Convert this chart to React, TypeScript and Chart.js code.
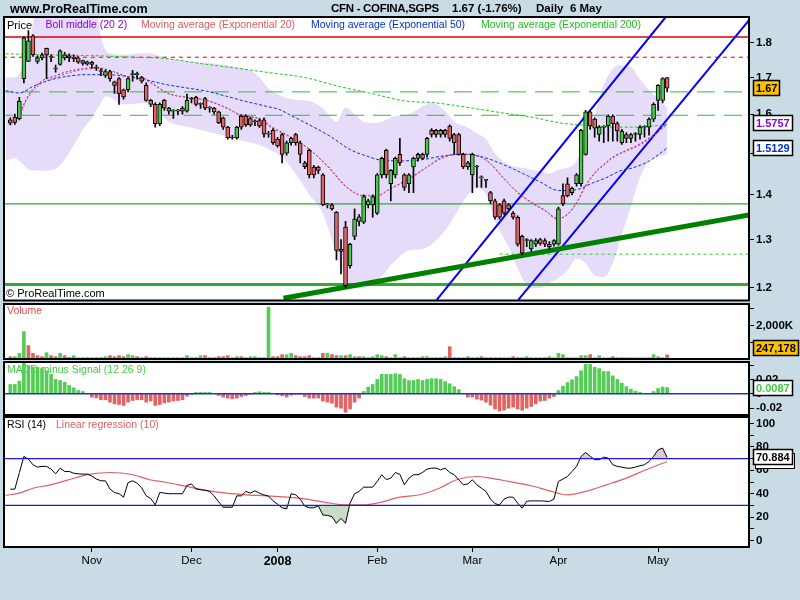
import React, { useEffect, useRef } from 'react';
import { Chart, registerables } from 'chart.js';

Chart.register(...registerables);

// ================= DATA =================
const monthTickIdx = [18, 40, 59, 81, 102, 121, 143];
const monthTickLabels = ['Nov', 'Dec', '2008', 'Feb', 'Mar', 'Apr', 'May'];

const priceTicks = [1.2, 1.3, 1.4, 1.5, 1.6, 1.7, 1.8];
const volumeTicks = [1000, 2000, 3000];
const macdTicks = [0.04, 0.02, 0, -0.02];
const rsiTicks = [0, 10, 20, 30, 40, 50, 60, 70, 80, 90, 100];

const opens = [
  1.585, 1.592, 1.588, 1.697, 1.746, 1.821, 1.746, 1.756, 1.784, 1.760,
  1.724, 1.737, 1.756, 1.762, 1.758, 1.756, 1.748, 1.738, 1.744, 1.727,
  1.717, 1.706, 1.717, 1.688, 1.697, 1.666, 1.666, 1.708, 1.708, 1.700,
  1.678, 1.637, 1.626, 1.574, 1.637, 1.608, 1.608, 1.608, 1.616, 1.608,
  1.640, 1.645, 1.626, 1.642, 1.616, 1.616, 1.606, 1.590, 1.566, 1.538,
  1.538, 1.595, 1.595, 1.588, 1.580, 1.583, 1.585, 1.548, 1.558, 1.535,
  1.547, 1.500, 1.526, 1.547, 1.526, 1.476, 1.507, 1.466, 1.466, 1.447,
  1.377, 1.377, 1.360, 1.280, 1.327, 1.245, 1.307, 1.340, 1.338, 1.377,
  1.377, 1.358, 1.447, 1.507, 1.426, 1.447, 1.497, 1.447, 1.426, 1.466,
  1.487, 1.497, 1.497, 1.558, 1.558, 1.547, 1.558, 1.569, 1.547, 1.547,
  1.497, 1.466, 1.447, 1.466, 1.440, 1.434, 1.405, 1.386, 1.377, 1.386,
  1.377, 1.358, 1.349, 1.307, 1.298, 1.280, 1.290, 1.300, 1.298, 1.285,
  1.290, 1.290, 1.398, 1.426, 1.405, 1.426, 1.426, 1.497, 1.606, 1.587,
  1.547, 1.566, 1.569, 1.595, 1.575, 1.526, 1.547, 1.537, 1.547, 1.547,
  1.566, 1.566, 1.587, 1.637, 1.637, 1.700,
];
const highs = [
  1.590, 1.600, 1.645, 1.818, 1.837, 1.825, 1.762, 1.770, 1.785, 1.765,
  1.735, 1.780, 1.772, 1.768, 1.765, 1.760, 1.750, 1.747, 1.746, 1.735,
  1.725, 1.722, 1.720, 1.690, 1.700, 1.668, 1.700, 1.720, 1.715, 1.703,
  1.685, 1.640, 1.630, 1.630, 1.640, 1.618, 1.612, 1.613, 1.620, 1.654,
  1.645, 1.648, 1.630, 1.645, 1.620, 1.618, 1.608, 1.592, 1.568, 1.545,
  1.568, 1.598, 1.598, 1.592, 1.585, 1.588, 1.590, 1.555, 1.562, 1.540,
  1.550, 1.530, 1.540, 1.550, 1.530, 1.480, 1.510, 1.470, 1.468, 1.450,
  1.380, 1.380, 1.362, 1.300, 1.340, 1.292, 1.368, 1.355, 1.400, 1.390,
  1.400, 1.450, 1.490, 1.510, 1.460, 1.490, 1.537, 1.450, 1.450, 1.490,
  1.500, 1.500, 1.540, 1.562, 1.560, 1.560, 1.560, 1.572, 1.550, 1.550,
  1.500, 1.480, 1.500, 1.470, 1.445, 1.436, 1.408, 1.390, 1.380, 1.390,
  1.380, 1.362, 1.352, 1.310, 1.302, 1.300, 1.302, 1.303, 1.302, 1.296,
  1.300, 1.372, 1.426, 1.440, 1.418, 1.450, 1.560, 1.610, 1.610, 1.590,
  1.570, 1.570, 1.598, 1.598, 1.580, 1.560, 1.552, 1.550, 1.552, 1.570,
  1.570, 1.590, 1.630, 1.680, 1.700, 1.700,
];
const lows = [
  1.572, 1.573, 1.585, 1.685, 1.745, 1.760, 1.740, 1.750, 1.697, 1.745,
  1.715, 1.735, 1.750, 1.745, 1.745, 1.740, 1.735, 1.735, 1.726, 1.720,
  1.705, 1.700, 1.690, 1.656, 1.626, 1.640, 1.660, 1.690, 1.695, 1.685,
  1.635, 1.620, 1.566, 1.570, 1.610, 1.600, 1.589, 1.598, 1.600, 1.605,
  1.630, 1.622, 1.615, 1.612, 1.605, 1.600, 1.575, 1.560, 1.535, 1.535,
  1.535, 1.560, 1.568, 1.568, 1.570, 1.565, 1.540, 1.540, 1.522, 1.515,
  1.476, 1.495, 1.520, 1.520, 1.476, 1.462, 1.440, 1.440, 1.450, 1.375,
  1.370, 1.365, 1.257, 1.228, 1.200, 1.240, 1.300, 1.330, 1.335, 1.370,
  1.349, 1.355, 1.440, 1.440, 1.386, 1.440, 1.470, 1.410, 1.405, 1.405,
  1.480, 1.485, 1.490, 1.540, 1.540, 1.540, 1.540, 1.530, 1.497, 1.495,
  1.462, 1.460, 1.405, 1.417, 1.417, 1.417, 1.380, 1.345, 1.345, 1.355,
  1.365, 1.345, 1.286, 1.268, 1.285, 1.275, 1.285, 1.288, 1.285, 1.280,
  1.286, 1.288, 1.375, 1.395, 1.400, 1.420, 1.420, 1.495, 1.560, 1.540,
  1.530, 1.526, 1.530, 1.530, 1.530, 1.522, 1.526, 1.526, 1.530, 1.535,
  1.540, 1.545, 1.580, 1.610, 1.630, 1.660,
];
const closes = [
  1.576, 1.578, 1.634, 1.815, 1.806, 1.765, 1.756, 1.765, 1.765, 1.758,
  1.724, 1.777, 1.765, 1.756, 1.754, 1.744, 1.740, 1.745, 1.737, 1.727,
  1.717, 1.717, 1.697, 1.678, 1.655, 1.646, 1.697, 1.708, 1.708, 1.690,
  1.637, 1.626, 1.574, 1.626, 1.616, 1.616, 1.608, 1.608, 1.608, 1.637,
  1.640, 1.626, 1.626, 1.616, 1.616, 1.606, 1.577, 1.566, 1.538, 1.538,
  1.566, 1.566, 1.572, 1.572, 1.580, 1.569, 1.548, 1.550, 1.526, 1.518,
  1.497, 1.526, 1.537, 1.526, 1.497, 1.467, 1.447, 1.447, 1.458, 1.377,
  1.377, 1.368, 1.277, 1.275, 1.205, 1.290, 1.345, 1.350, 1.396, 1.386,
  1.396, 1.447, 1.487, 1.447, 1.458, 1.487, 1.476, 1.417, 1.447, 1.487,
  1.497, 1.487, 1.537, 1.547, 1.547, 1.558, 1.547, 1.537, 1.526, 1.497,
  1.466, 1.476, 1.497, 1.466, 1.440, 1.434, 1.386, 1.349, 1.349, 1.358,
  1.368, 1.349, 1.290, 1.271, 1.298, 1.298, 1.298, 1.292, 1.290, 1.290,
  1.298, 1.368, 1.379, 1.398, 1.415, 1.447, 1.558, 1.606, 1.569, 1.563,
  1.566, 1.566, 1.595, 1.575, 1.556, 1.556, 1.537, 1.547, 1.547, 1.566,
  1.566, 1.587, 1.626, 1.678, 1.697, 1.670,
];

const volumesK = [
  140, 140, 340, 1640, 800, 340, 200, 140, 380, 200,
  140, 340, 200, 100, 200, 80, 80, 80, 80, 80,
  80, 140, 200, 140, 200, 140, 260, 200, 140, 80,
  140, 80, 80, 80, 80, 80, 80, 80, 80, 200,
  80, 80, 200, 200, 80, 80, 140, 140, 200, 80,
  140, 140, 80, 140, 140, 80, 80, 3100, 140, 140,
  260, 260, 340, 200, 140, 140, 200, 80, 80, 340,
  340, 260, 200, 200, 200, 260, 140, 140, 140, 80,
  140, 260, 200, 140, 80, 260, 80, 140, 80, 80,
  80, 140, 140, 80, 80, 80, 140, 740, 80, 80,
  80, 140, 80, 80, 140, 80, 80, 80, 80, 80,
  80, 140, 80, 80, 140, 80, 80, 80, 80, 140,
  80, 340, 260, 80, 80, 80, 200, 200, 260, 80,
  200, 80, 80, 140, 80, 80, 80, 80, 80, 80,
  80, 80, 260, 140, 80, 247,
];
const volumeUp = [
  0, 1, 1, 1, 0, 0, 0, 0, 1, 0,
  0, 1, 0, 0, 1, 1, 1, 0, 0, 0,
  0, 1, 0, 0, 0, 0, 1, 1, 0, 0,
  0, 0, 0, 1, 1, 1, 1, 1, 1, 1,
  0, 0, 1, 0, 0, 0, 0, 0, 0, 1,
  1, 0, 0, 1, 1, 0, 0, 1, 0, 0,
  0, 1, 1, 0, 0, 0, 0, 1, 1, 0,
  1, 0, 0, 1, 0, 1, 1, 0, 1, 0,
  1, 1, 1, 0, 1, 1, 0, 0, 1, 1,
  1, 1, 1, 1, 0, 0, 1, 0, 0, 0,
  0, 1, 1, 0, 0, 0, 0, 0, 0, 1,
  1, 0, 0, 0, 1, 1, 1, 1, 0, 1,
  1, 1, 1, 1, 1, 1, 1, 1, 0, 1,
  1, 1, 1, 0, 0, 0, 1, 1, 1, 1,
  1, 1, 1, 1, 1, 0,
];

const macdHist = [
  0.013, 0.013, 0.0176, 0.044, 0.039, 0.037, 0.037, 0.035, 0.032, 0.027,
  0.020, 0.0185, 0.016, 0.0116, 0.0083, 0.0046, 0.0032, 0.0005, -0.0046, -0.0056,
  -0.0083, -0.0083, -0.0116, -0.014, -0.0148, -0.0162, -0.0116, -0.0093, -0.0083, -0.0083,
  -0.0116, -0.010, -0.0162, -0.0148, -0.0125, -0.0116, -0.010, -0.0093, -0.0083, -0.0032,
  -0.0005, 0.0019, 0.0019, 0.0019, 0.0019, 0.0003, -0.0023, -0.0046, -0.006, -0.007,
  -0.006, -0.0037, -0.0023, -0.0005, 0.0019, 0.0028, 0.0019, 0.0019, 0.0002, -0.0014,
  -0.0028, -0.0046, -0.0019, -0.0003, -0.0005, -0.0037, -0.006, -0.006, -0.006, -0.010,
  -0.0116, -0.013, -0.0185, -0.020, -0.0255, -0.021, -0.0116, -0.006, 0.0032, 0.0093,
  0.013, 0.020, 0.027, 0.027, 0.027, 0.028, 0.027, 0.021, 0.0185, 0.0185,
  0.020, 0.0185, 0.020, 0.021, 0.021, 0.020, 0.017, 0.014, 0.010, 0.006,
  0.0005, -0.0046, -0.0046, -0.0074, -0.0088, -0.0116, -0.0157, -0.021, -0.024, -0.0227,
  -0.020, -0.0185, -0.021, -0.0227, -0.020, -0.0176, -0.014, -0.010, -0.0093, -0.006,
  -0.0037, 0.0046, 0.0106, 0.0157, 0.0194, 0.024, 0.032, 0.041, 0.041, 0.037,
  0.035, 0.031, 0.031, 0.025, 0.020, 0.0148, 0.010, 0.0065, 0.0037, 0.0019,
  0.0005, 0.0005, 0.0032, 0.0074, 0.0095, 0.0087,
];

const rsi14 = [
  43.9, 43.9, 58, 71.8, 69.5, 64.7, 62.7, 63.3, 63.3, 61,
  57, 61.8, 59, 59, 57.5, 57, 56.7, 56.7, 55, 52.5,
  51, 51, 44, 41, 40, 37.1, 49.5, 51, 49, 45,
  38.2, 36, 30.5, 41.1, 40.5, 40, 40, 40, 40, 47,
  48.4, 44, 43.4, 43, 42, 38.2, 33, 28.5, 28.5, 28.5,
  38.2, 38.2, 42, 40.5, 42.5, 40.5, 39, 38, 34, 31,
  28, 27, 40, 39.1, 35.4, 29.5, 28, 28, 29.7, 21.9,
  21.5, 20.5, 14.8, 19.1, 14.8, 32, 40, 42, 45.6, 45.6,
  45.6, 50.5, 56.2, 52, 53.3, 58.1, 56.5, 47.6, 53.3, 56.2,
  56.2, 58.1, 61, 61.8, 61.8, 60.4, 61.8, 58.1, 56.2, 51.9,
  47.6, 48.4, 51.9, 47.6, 44.7, 42, 35.5, 31.5, 30.5, 35.4,
  37.1, 37.1, 32, 27.7, 33.6, 33.9, 33.9, 33.9, 33.7, 33.4,
  35.4, 50.5, 52.5, 54.7, 59, 63.3, 71.8, 75.2, 72, 69,
  69, 71.2, 70.4, 64.7, 63.3, 62.7, 61.8, 61.8, 62.7, 63.9,
  64.7, 67.5, 71.8, 77.5, 78.9, 70.884,
];

const rsiRegPts = [
  [-1, 38.6], [2, 40.5], [5, 44.7], [8.8, 47.6], [12.4, 51.4], [17.6, 56.7], [22, 58.1],
  [27.1, 56.2], [30.8, 51.9], [34.5, 49.6], [38.9, 46.2], [43.3, 42.8], [47.7, 40.5],
  [52.1, 39.1], [56.5, 38.2], [61, 37.1], [65.4, 35.4], [69.8, 32.5], [74.2, 30.5],
  [77.9, 30.5], [81.5, 32.5], [86, 37.1], [90.4, 39.1], [94.7, 44.7], [98.5, 51.9],
  [103, 54.7], [106, 53.3], [110, 50.5], [115, 46.8], [119, 42.5], [123, 39.1],
  [127, 42], [131.6, 47.6], [136, 53.3], [140.3, 60.4], [145, 67.5],
];

const bollIdx = [
  -0.95, 1, 2, 3, 4, 5, 7, 10, 14, 16, 18, 19, 20, 21, 22, 25, 30, 35, 40, 45,
  50, 53, 55, 57, 60, 62, 66, 69, 72, 74, 76, 78, 81, 85, 88, 91, 93, 96, 98, 101,
  103, 105, 107, 110, 113, 115, 117, 119, 121, 123, 125, 127, 129, 131, 133, 135, 137, 139, 141, 143,
  145,
];
const bollUpper = [
  1.70, 1.70, 1.71, 1.74, 1.79, 1.86, 2.00, 2.02, 2.00, 1.98, 1.95, 1.90, 1.82, 1.78, 1.77, 1.765, 1.77, 1.755, 1.745, 1.74,
  1.73, 1.72, 1.70, 1.67, 1.648, 1.64, 1.635, 1.616, 1.58, 1.617, 1.60, 1.58, 1.577, 1.595, 1.60, 1.621, 1.63, 1.608, 1.58, 1.565,
  1.55, 1.535, 1.50, 1.472, 1.464, 1.46, 1.455, 1.45, 1.46, 1.464, 1.48, 1.53, 1.60, 1.68, 1.725, 1.735, 1.73, 1.695, 1.665, 1.64,
  1.617,
];
const bollLower = [
  1.481, 1.488, 1.48, 1.47, 1.46, 1.458, 1.457, 1.462, 1.52, 1.56, 1.59, 1.61, 1.63, 1.648, 1.645, 1.626, 1.63, 1.58, 1.565, 1.55,
  1.535, 1.526, 1.52, 1.51, 1.49, 1.464, 1.401, 1.357, 1.27, 1.222, 1.20, 1.20, 1.215, 1.256, 1.277, 1.28, 1.29, 1.32, 1.35, 1.40,
  1.417, 1.40, 1.341, 1.284, 1.22, 1.20, 1.20, 1.21, 1.22, 1.235, 1.26, 1.25, 1.225, 1.222, 1.25, 1.311, 1.372, 1.44, 1.48, 1.49,
  1.497,
];
const bollMiddlePts = [
  [2, 1.60], [4, 1.65], [7, 1.69], [10, 1.705], [13, 1.718], [16, 1.725], [19, 1.728], [22, 1.72],
  [26, 1.703], [29, 1.70], [32, 1.678], [35, 1.655], [39, 1.645], [43, 1.638], [48, 1.615], [51, 1.597],
  [55, 1.588], [58, 1.565], [62, 1.54], [66, 1.51], [70, 1.468], [74, 1.42], [78, 1.398], [81, 1.398],
  [84, 1.415], [88, 1.438], [92, 1.466], [95, 1.488], [99, 1.498], [103, 1.494], [106, 1.474], [109, 1.438],
  [112, 1.405], [115, 1.382], [118, 1.364], [121, 1.346], [123, 1.356], [125, 1.382], [127, 1.422],
  [129, 1.452], [131, 1.472], [133, 1.49], [136, 1.507], [139, 1.523], [142, 1.546], [145, 1.5757],
];
const ema20Pts = [
  [2, 1.59], [3.6, 1.637], [6.5, 1.68], [10, 1.70], [13, 1.713], [16, 1.722], [19, 1.725], [22, 1.72],
  [25.7, 1.703], [28.6, 1.70], [31.5, 1.68], [34.5, 1.657], [38.9, 1.645], [43.3, 1.637], [47.7, 1.617],
  [50.7, 1.597], [55, 1.587], [57.5, 1.565], [61.7, 1.54], [66, 1.509], [70.5, 1.464], [74.4, 1.417],
  [78, 1.398], [80.8, 1.398], [83.7, 1.413], [88.1, 1.437], [91.8, 1.464], [95.5, 1.488], [98.5, 1.497],
  [102.9, 1.495], [105.8, 1.476], [108.8, 1.44], [111.7, 1.409], [115.4, 1.381], [118, 1.365],
  [120.5, 1.345], [122.7, 1.352], [125, 1.38], [127, 1.42], [129, 1.45], [131, 1.47], [133, 1.488],
  [136, 1.505], [139, 1.52], [142, 1.543], [145, 1.572],
];
const ema50Pts = [
  [-1, 1.663], [2, 1.657], [5, 1.675], [8.8, 1.693], [12.4, 1.703], [16.8, 1.708], [21.3, 1.708],
  [25.7, 1.703], [30, 1.693], [34.5, 1.68], [38.9, 1.671], [43.3, 1.662], [47.7, 1.648], [52, 1.634],
  [56.5, 1.621], [59.5, 1.612], [61.7, 1.598], [66, 1.572], [70.5, 1.543], [75, 1.509], [78.6, 1.493],
  [82.3, 1.482], [86.7, 1.481], [91, 1.484], [95.5, 1.493], [99.9, 1.497], [104.4, 1.49], [108.8, 1.472],
  [113.2, 1.45], [117, 1.43], [121, 1.41], [125, 1.412], [128.6, 1.428], [131.5, 1.44], [134.5, 1.456],
  [137.4, 1.464], [141.1, 1.481], [145, 1.513],
];
const ema200Pts = [
  [-1, 1.768], [8, 1.765], [19.8, 1.762], [27, 1.758], [34.5, 1.754], [41.8, 1.74], [49, 1.728],
  [57, 1.714], [65, 1.70], [72.6, 1.675], [79.3, 1.657], [86.7, 1.636], [94, 1.63], [101.4, 1.617],
  [108.8, 1.603], [116, 1.59], [121.2, 1.577], [125.7, 1.572], [131.5, 1.566], [138, 1.566], [145, 1.572],
];

const horizontalLevels = [1.818, 1.758, 1.660, 1.597, 1.379, 1.207];
const dottedLevel = 1.269;
const dottedFromIdx = 108;
const supportTrend = [[60.3, 1.1797], [163.07, 1.354]];
const channelUpper = [[94.13, 1.1764], [144.68, 1.879]];
const channelLower = [[112.14, 1.1764], [163.13, 1.8699]];

const lastClose = 1.67;
const lastBollMiddle = 1.5757;
const lastEma50 = 1.5129;
const lastVolumeK = 247.178;
const lastMacd = 0.0087;
const lastRsi = 70.884;

// ================= STYLE / LAYOUT =================
const FONT = '"Liberation Sans", Arial, Helvetica, sans-serif';
const BG = '#c9dce6';
const UP = '#4cc64c';
const DOWN = '#e06464';
const X_MIN = -1.391;
const X_MAX = 163.068;

const P = (arr: number[][]) => arr.map(([x, y]) => ({ x, y }));
const span = (v: number, from = X_MIN - 2, to = X_MAX + 2) => [{ x: from, y: v }, { x: to, y: v }];

function line(data: any, color: string, width: number, dash: number[], order: number, extra: any = {}) {
  return {
    type: 'line', data, borderColor: color, borderWidth: width, borderDash: dash,
    pointRadius: 0, fill: false, order, clip: 0, ...extra,
  };
}

function base(padTop: number, padBottom: number) {
  return {
    responsive: false,
    animation: false,
    events: [],
    layout: { padding: { left: 4, right: 0, top: padTop, bottom: padBottom } },
    plugins: {
      legend: { display: false },
      tooltip: { enabled: false },
      filler: { drawTime: 'beforeDatasetsDraw' },
    },
  };
}

const hiddenX = () => ({ type: 'linear', min: X_MIN, max: X_MAX, display: false, offset: false });

function rightAxis(ticks: number[], cb: (v: number) => string, extra: any = {}) {
  return {
    position: 'right',
    afterFit: (s: any) => { s.width = 51; },
    afterBuildTicks: (s: any) => { s.ticks = ticks.map((v) => ({ value: v })); },
    grid: { drawOnChartArea: false, drawTicks: true, tickLength: 5, color: '#000', lineWidth: 1 },
    border: { display: false },
    ticks: {
      autoSkip: false, color: '#000', padding: 2,
      font: { family: FONT, size: 11.5, weight: 'bold' },
      callback: (v: any) => cb(Number(v)),
    },
    ...extra,
  };
}

function panelPlugin(labels: any[], boxes: any[]) {
  return {
    id: 'panelDeco',
    beforeDraw(chart: any) {
      const { ctx, chartArea: a } = chart;
      ctx.save();
      ctx.fillStyle = '#ffffff';
      ctx.fillRect(a.left, a.top, a.right - a.left, a.bottom - a.top);
      ctx.restore();
    },
    beforeDatasetsDraw(chart: any) {
      const { ctx, chartArea: a } = chart;
      ctx.save();
      ctx.textBaseline = 'top';
      ctx.textAlign = 'left';
      for (const l of labels) {
        ctx.font = `${l.size || 10.5}px ${FONT}`;
        ctx.fillStyle = l.color;
        const y = l.bottom ? a.bottom - l.dy : a.top + l.dy;
        ctx.fillText(l.text, l.x, y);
      }
      ctx.restore();
    },
    afterDraw(chart: any) {
      const { ctx, chartArea: a } = chart;
      ctx.save();
      ctx.strokeStyle = '#000';
      ctx.lineWidth = 2;
      ctx.strokeRect(a.left, a.top, a.right - a.left, a.bottom - a.top);
      const ys = chart.scales.y;
      for (const b of boxes) {
        ctx.font = `bold 11px ${FONT}`;
        const w = Math.round(ctx.measureText(b.text).width) + 6;
        const h = 16;
        let top = Math.round(ys.getPixelForValue(b.value) - h / 2);
        top = Math.max(a.top + 1, Math.min(a.bottom - 3 - h, top));
        const left = 753;
        if (b.shadow) {
          ctx.fillStyle = '#fff';
          ctx.fillRect(left + 2, top + 4, w, h);
          ctx.lineWidth = 1;
          ctx.strokeStyle = '#000';
          ctx.strokeRect(left + 2.5, top + 4.5, w - 1, h - 1);
        }
        ctx.fillStyle = b.bg;
        ctx.fillRect(left, top, w, h);
        ctx.lineWidth = 1.5;
        ctx.strokeStyle = '#000';
        ctx.strokeRect(left + 0.5, top + 0.5, w - 1, h - 1);
        ctx.fillStyle = b.fg;
        ctx.textBaseline = 'middle';
        ctx.textAlign = 'left';
        ctx.fillText(b.text, left + 3, top + h / 2 + 0.5);
      }
      ctx.restore();
    },
  };
}

function priceConfig(): any {
  const bodyColors = closes.map((c, i) => (c >= opens[i] ? UP : DOWN));
  const hStyles = [
    { color: '#dd0000', width: 1.5, dash: [] },
    { color: '#ee0000', width: 1, dash: [4, 4] },
    { color: '#33bb33', width: 1, dash: [18, 9] },
    { color: '#33bb33', width: 1, dash: [18, 9] },
    { color: '#33aa33', width: 1.2, dash: [] },
    { color: '#33aa33', width: 3, dash: [] },
  ];
  return {
    type: 'bar',
    data: {
      datasets: [
        {
          type: 'bar', data: opens.map((o, i) => ({ x: i, y: [o, closes[i]] })),
          backgroundColor: bodyColors, borderColor: '#000', borderWidth: 1, borderSkipped: false,
          barThickness: 4, grouped: false, minBarLength: 1, order: 0,
        },
        {
          type: 'bar', data: lows.map((l, i) => ({ x: i, y: [l, highs[i]] })),
          backgroundColor: '#000', borderWidth: 0, barThickness: 1, grouped: false, order: 1,
        },
        line(P(ema20Pts), '#e05a5a', 1, [2, 2], 2, { cubicInterpolationMode: 'monotone' }),
        line(P(bollMiddlePts), '#8a00d0', 1, [2, 2], 2, { cubicInterpolationMode: 'monotone', borderDashOffset: 2 }),
        line(P(ema50Pts), '#0030e0', 1, [3, 2], 2, { cubicInterpolationMode: 'monotone' }),
        line(P(ema200Pts), '#1ec81e', 1, [3, 2], 2, { cubicInterpolationMode: 'monotone' }),
        line(P(supportTrend), '#008000', 5, [], 3),
        line(P(channelUpper), '#0000ff', 2, [], 3),
        line(P(channelLower), '#0000ff', 2, [], 3),
        ...horizontalLevels.map((v, k) => line(span(v), hStyles[k].color, hStyles[k].width, hStyles[k].dash, 4)),
        line(span(dottedLevel, dottedFromIdx), '#33cc33', 1, [3, 3], 4),
        {
          type: 'line', data: bollIdx.map((x, k) => ({ x, y: bollUpper[k] })),
          borderWidth: 0, borderColor: 'transparent', pointRadius: 0, fill: '+1',
          backgroundColor: '#e6dcfa', order: 5, cubicInterpolationMode: 'monotone',
        },
        {
          type: 'line', data: bollIdx.map((x, k) => ({ x, y: bollLower[k] })),
          borderWidth: 0, borderColor: 'transparent', pointRadius: 0, fill: false,
          order: 5, cubicInterpolationMode: 'monotone',
        },
      ],
    },
    options: {
      ...base(17, 10.5),
      scales: {
        x: hiddenX(),
        y: { type: 'logarithmic', min: 1.1754, max: 1.879, ...rightAxis(priceTicks, (v) => v.toFixed(1)) },
      },
    },
    plugins: [panelPlugin(
      [
        { text: 'Price', color: '#000', x: 7, dy: 3, size: 11 },
        { text: 'Boll middle (20 2)', color: '#8a00d0', x: 45.5, dy: 3 },
        { text: 'Moving average (Exponential 20)', color: '#e05a5a', x: 141, dy: 3 },
        { text: 'Moving average (Exponential 50)', color: '#0030d0', x: 311, dy: 3 },
        { text: 'Moving average (Exponential 200)', color: '#20c020', x: 481, dy: 3 },
        { text: '\u00A9 ProRealTime.com', color: '#000', x: 6, dy: 12, bottom: true, size: 11 },
      ],
      [
        { value: lastClose, text: lastClose.toFixed(2), bg: '#ffc000', fg: '#000' },
        { value: lastBollMiddle, text: String(lastBollMiddle), bg: '#fff', fg: '#8a00d0' },
        { value: lastEma50, text: String(lastEma50), bg: '#fff', fg: '#0030d0' },
      ],
    )],
  };
}

function volumeConfig(): any {
  return {
    type: 'bar',
    data: {
      datasets: [{
        data: volumesK.map((v, i) => ({ x: i, y: v })),
        backgroundColor: volumeUp.map((u) => (u ? '#55cc55' : '#e06464')),
        borderWidth: 0, barThickness: 3, grouped: false,
      }],
    },
    options: {
      ...base(10, 10),
      scales: {
        x: hiddenX(),
        y: { type: 'linear', min: 0, max: 3284, ...rightAxis(volumeTicks, (v) => (v === 2000 ? '2,000K' : '')) },
      },
    },
    plugins: [panelPlugin(
      [{ text: 'Volume', color: '#e05050', x: 7, dy: 2 }],
      [{ value: lastVolumeK, text: '247,178', bg: '#ffc000', fg: '#000' }],
    )],
  };
}

function macdConfig(): any {
  return {
    type: 'bar',
    data: {
      datasets: [
        {
          type: 'bar', data: macdHist.map((v, i) => ({ x: i, y: v })),
          backgroundColor: macdHist.map((v) => (v >= 0 ? '#55cc55' : '#e06464')),
          borderWidth: 0, barThickness: 3, grouped: false, order: 1,
        },
        line(span(0), '#2233cc', 1.5, [], 0),
      ],
    },
    options: {
      ...base(10, 10),
      scales: {
        x: hiddenX(),
        y: {
          type: 'linear', min: -0.0294, max: 0.0442,
          ...rightAxis(macdTicks, (v) => (Math.abs(v - 0.04) < 1e-9 ? '' : Math.abs(v) < 1e-9 ? '0' : v.toFixed(2))),
        },
      },
    },
    plugins: [panelPlugin(
      [{ text: 'MACD minus Signal (12 26 9)', color: '#44c844', x: 7, dy: 2.5 }],
      [{ value: lastMacd, text: String(lastMacd), bg: '#fff', fg: '#44c844' }],
    )],
  };
}

function rsiConfig(): any {
  const pts = rsi14.map((v, i) => ({ x: i, y: v }));
  return {
    type: 'line',
    data: {
      datasets: [
        line(pts, '#000', 1, [], 1, { fill: { target: { value: 70 }, above: '#dccacd', below: 'transparent' } }),
        line(pts, 'transparent', 0, [], 3, { fill: { target: { value: 30 }, above: 'transparent', below: '#c9dcc6' } }),
        line(P(rsiRegPts), '#e06060', 1.2, [], 2, { cubicInterpolationMode: 'monotone' }),
        line(span(70), '#1a1aee', 1.3, [], 0),
        line(span(30), '#1a1aee', 1.3, [], 0),
      ],
    },
    options: {
      ...base(10, 0),
      scales: {
        x: {
          type: 'linear', min: X_MIN, max: X_MAX, offset: false, position: 'bottom',
          afterFit: (s: any) => { s.height = 53; },
          afterBuildTicks: (s: any) => { s.ticks = monthTickIdx.map((v) => ({ value: v })); },
          grid: { drawOnChartArea: false, drawTicks: true, tickLength: 5, color: '#000', lineWidth: 1 },
          border: { display: false },
          ticks: {
            autoSkip: false, maxRotation: 0, minRotation: 0, color: '#000', padding: 2,
            callback: (_v: any, i: number) => monthTickLabels[i],
            font: (ctx: any) => (ctx.index === 2
              ? { family: FONT, size: 12.5, weight: 'bold' }
              : { family: FONT, size: 11.5, weight: 'normal' }),
          },
        },
        y: { type: 'linear', min: -5.4, max: 105.4, ...rightAxis(rsiTicks, (v) => (v % 20 === 0 ? String(v) : '')) },
      },
    },
    plugins: [panelPlugin(
      [
        { text: 'RSI (14)', color: '#000', x: 7, dy: 2.5 },
        { text: 'Linear regression (10)', color: '#e06060', x: 56, dy: 2.5 },
      ],
      [{ value: lastRsi, text: String(lastRsi), bg: '#fff', fg: '#000', shadow: true }],
    )],
  };
}

export default function App() {
  const pRef = useRef<HTMLCanvasElement>(null);
  const vRef = useRef<HTMLCanvasElement>(null);
  const mRef = useRef<HTMLCanvasElement>(null);
  const rRef = useRef<HTMLCanvasElement>(null);

  useEffect(() => {
    const charts: Chart[] = [];
    charts.push(new Chart(pRef.current as HTMLCanvasElement, priceConfig()));
    charts.push(new Chart(vRef.current as HTMLCanvasElement, volumeConfig()));
    charts.push(new Chart(mRef.current as HTMLCanvasElement, macdConfig()));
    charts.push(new Chart(rRef.current as HTMLCanvasElement, rsiConfig()));
    return () => charts.forEach((c) => c.destroy());
  }, []);

  const cv = (top: number): React.CSSProperties => ({ position: 'absolute', left: 0, top });
  const hdr: React.CSSProperties = { position: 'absolute', top: 2, fontFamily: FONT, fontWeight: 'bold', fontSize: 12, color: '#000', whiteSpace: 'pre' };

  return (
    <div style={{ position: 'fixed', left: 0, top: 0, width: 800, height: 600, background: BG, overflow: 'hidden' }}>
      <canvas ref={pRef} width={800} height={311} style={cv(0)} />
      <canvas ref={vRef} width={800} height={75} style={cv(293.5)} />
      <canvas ref={mRef} width={800} height={73} style={cv(351.5)} />
      <canvas ref={rRef} width={800} height={193} style={cv(407)} />
      <div style={{ ...hdr, left: 10, fontSize: 12.5 }}>www.ProRealTime.com</div>
      <div style={{ ...hdr, left: 331, fontSize: 11.5, letterSpacing: -0.3 }}>CFN - COFINA,SGPS</div>
      <div style={{ ...hdr, left: 452, fontSize: 11.5 }}>1.67 (-1.76%)</div>
      <div style={{ ...hdr, left: 536, fontSize: 11.5 }}>Daily  6 May</div>
    </div>
  );
}
